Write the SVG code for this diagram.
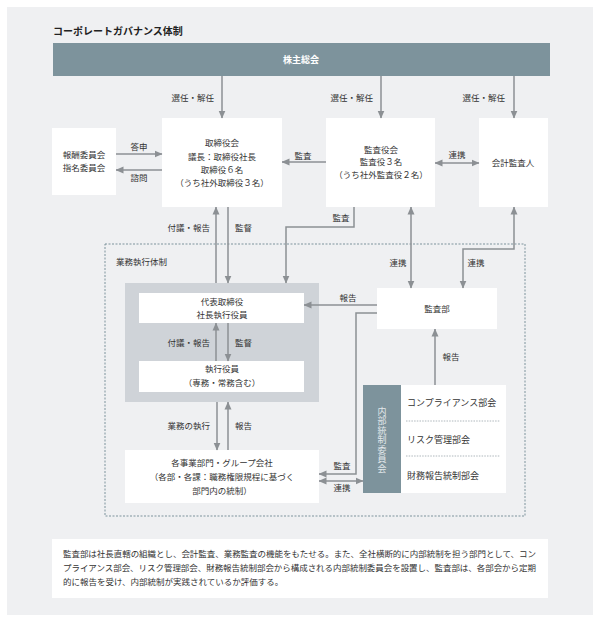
<svg xmlns="http://www.w3.org/2000/svg" width="600" height="622" viewBox="0 0 600 622">
<style>
text{font-family:"Noto Sans CJK JP","Noto Sans",sans-serif;fill:#333;font-size:8.5px}
.c{text-anchor:middle}
.e{text-anchor:end}
.box{fill:#fff}
.ln{fill:none;stroke:#8c9094;stroke-width:1.5}
.sep{stroke:#9aa5ab;stroke-width:0.8;stroke-dasharray:1.5,1.2}
</style>
<defs>
<marker id="ah" viewBox="0 0 8 8" refX="7.5" refY="4" markerWidth="8" markerHeight="8" markerUnits="userSpaceOnUse" orient="auto-start-reverse"><path d="M0,0.5 L8,4 L0,7.5 z" fill="#8c9094"/></marker>
</defs>
<rect x="0" y="0" width="600" height="622" fill="#fff"/>
<rect x="7" y="7" width="586" height="608" fill="#eff0f2"/>
<text x="53" y="35" style="font-size:10px;font-weight:bold;fill:#222">コーポレートガバナンス体制</text>

<g id="shareholders"><rect x="53" y="43" width="497" height="33" fill="#7d939c"/><text class="c" x="301" y="63" style="fill:#fff;font-weight:bold;font-size:9px">株主総会</text></g>

<g id="exec-frame"><rect x="105" y="244" width="420" height="272" fill="none" stroke="#7d939c" stroke-width="1" stroke-dasharray="2,1.5"/><text x="116" y="265">業務執行体制</text></g>

<g id="compensation"><rect class="box" x="52" y="128" width="64" height="67"/><text class="c" x="84" y="158">報酬委員会</text><text class="c" x="84" y="171">指名委員会</text></g>

<g id="board"><rect class="box" x="162" y="118" width="120" height="89"/><text class="c" x="222" y="146">取締役会</text><text class="c" x="222" y="160">議長：取締役社長</text><text class="c" x="222" y="173">取締役６名</text><text class="c" x="222" y="186">（うち社外取締役３名）</text></g>

<g id="auditors"><rect class="box" x="326" y="118" width="109" height="89"/><text class="c" x="381" y="153">監査役会</text><text class="c" x="381" y="165">監査役３名</text><text class="c" x="381" y="178">（うち社外監査役２名）</text></g>

<g id="accountant"><rect class="box" x="479" y="118" width="69" height="89"/><text class="c" x="513" y="166">会計監査人</text></g>

<g id="exec-group"><rect x="125" y="283" width="194" height="119" fill="#cfd3d8"/></g>

<g id="president"><rect class="box" x="139" y="293" width="165" height="30"/><text class="c" x="222" y="305">代表取締役</text><text class="c" x="222" y="318">社長執行役員</text></g>

<g id="officers"><rect class="box" x="139" y="361" width="165" height="31"/><text class="c" x="222" y="372">執行役員</text><text class="c" x="222" y="386">（専務・常務含む）</text></g>

<g id="audit-dept"><rect class="box" x="377" y="288" width="120" height="41"/><text class="c" x="437" y="312">監査部</text></g>

<g id="divisions"><rect class="box" x="125" y="450" width="194" height="53"/><text class="c" x="222" y="466">各事業部門・グループ会社</text><text class="c" x="222" y="480">（各部・各課：職務権限規程に基づく</text><text class="c" x="222" y="494">部門内の統制）</text></g>

<g id="internal-control"><rect x="363" y="385" width="38" height="108" fill="#7d939c"/><rect class="box" x="401" y="385" width="105" height="108"/>
<text x="382" y="407" style="writing-mode:vertical-rl;fill:#e2e8eb;font-size:9px;letter-spacing:0.5px">内部統制委員会</text>
<text x="407" y="406" style="font-size:9px">コンプライアンス部会</text>
<line class="sep" x1="406" y1="421" x2="500" y2="421"/>
<text x="407" y="443" style="font-size:9px">リスク管理部会</text>
<line class="sep" x1="406" y1="456" x2="500" y2="456"/>
<text x="407" y="479" style="font-size:9px">財務報告統制部会</text></g>

<g id="connectors">
<path class="ln" d="M222,76 V118" marker-end="url(#ah)"/>
<path class="ln" d="M381,76 V118" marker-end="url(#ah)"/>
<path class="ln" d="M514,76 V118" marker-end="url(#ah)"/>
<path class="ln" d="M116,154 H162" marker-end="url(#ah)"/>
<path class="ln" d="M162,170 H116" marker-end="url(#ah)"/>
<path class="ln" d="M326,162 H282" marker-end="url(#ah)"/>
<path class="ln" d="M435,163 H479" marker-start="url(#ah)" marker-end="url(#ah)"/>
<path class="ln" d="M216,283 V207" marker-end="url(#ah)"/>
<path class="ln" d="M228,207 V283" marker-end="url(#ah)"/>
<path class="ln" d="M354,207 V227 H286 V283" marker-end="url(#ah)"/>
<path class="ln" d="M411,207 V288" marker-start="url(#ah)" marker-end="url(#ah)"/>
<path class="ln" d="M514,207 V249 H463 V288" marker-start="url(#ah)" marker-end="url(#ah)"/>
<path class="ln" d="M377,305 H304" marker-end="url(#ah)"/>
<path class="ln" d="M216,361 V323" marker-end="url(#ah)"/>
<path class="ln" d="M228,323 V361" marker-end="url(#ah)"/>
<path class="ln" d="M217,402 V450" marker-end="url(#ah)"/>
<path class="ln" d="M228,450 V402" marker-end="url(#ah)"/>
<path class="ln" d="M377,313 H356 V474 H319" marker-end="url(#ah)"/>
<path class="ln" d="M319,481 H363" marker-start="url(#ah)" marker-end="url(#ah)"/>
<path class="ln" d="M435,385 V329" marker-end="url(#ah)"/>
<text class="e" x="214" y="101">選任・解任</text>
<text class="e" x="373" y="101">選任・解任</text>
<text class="e" x="505" y="101">選任・解任</text>
<text class="c" x="139" y="150">答申</text>
<text class="c" x="139" y="181">諮問</text>
<text class="c" x="303" y="159">監査</text>
<text class="c" x="457" y="158">連携</text>
<text class="e" x="210" y="231">付議・報告</text>
<text x="235" y="231">監督</text>
<text class="c" x="341" y="221">監査</text>
<text class="c" x="398" y="266">連携</text>
<text class="c" x="476" y="266">連携</text>
<text class="c" x="348" y="301">報告</text>
<text class="e" x="210" y="346">付議・報告</text>
<text x="235" y="346">監督</text>
<text class="c" x="451" y="360">報告</text>
<text class="e" x="210" y="429">業務の執行</text>
<text x="235" y="429">報告</text>
<text class="c" x="342" y="469">監査</text>
<text class="c" x="342" y="491">連携</text>
</g>

<g id="note"><rect class="box" x="52" y="539" width="496" height="59"/>
<text x="63" y="557" textLength="473" lengthAdjust="spacing">監査部は社長直轄の組織とし、会計監査、業務監査の機能をもたせる。また、全社横断的に内部統制を担う部門として、コン</text>
<text x="63" y="571" textLength="473" lengthAdjust="spacing">プライアンス部会、リスク管理部会、財務報告統制部会から構成される内部統制委員会を設置し、監査部は、各部会から定期</text>
<text x="63" y="585">的に報告を受け、内部統制が実践されているか評価する。</text>
</g>
</svg>
